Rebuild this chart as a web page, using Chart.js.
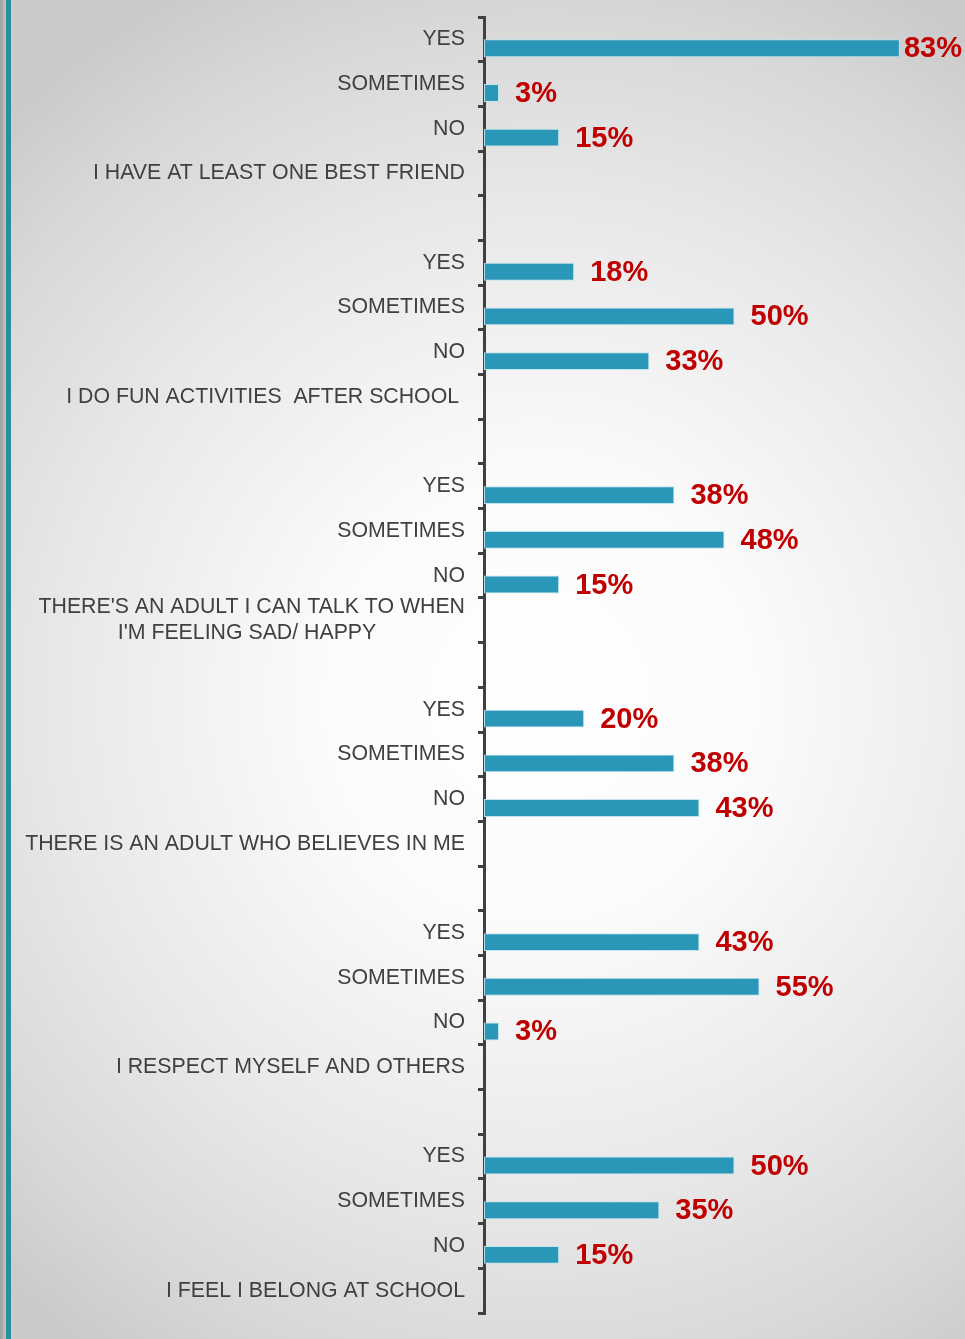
<!DOCTYPE html>
<html>
<head>
<meta charset="utf-8">
<script src="https://cdn.jsdelivr.net/npm/chart.js@4/dist/chart.umd.min.js"></script>
<style>
  html, body { margin: 0; padding: 0; }
  body {
    width: 965px; height: 1339px; position: relative; overflow: hidden;
    background: radial-gradient(ellipse 780px 800px at 540px 700px, #ffffff 0%, #fbfbfb 28%, #e8e8e8 62%, #d8d8d8 85%, #cacaca 100%);
  }
  #edge {
    position: absolute; left: 0; top: 0; width: 6px; height: 100%;
    background: linear-gradient(to right, #9e9e9e, #c4c4c4);
  }
  #stripe {
    position: absolute; left: 6px; top: 0; width: 5px; height: 100%;
    background: #2c8d9e;
  }
  canvas { position: absolute; left: 0; top: 0; }
</style>
</head>
<body>
<div id="edge"></div>
<div id="stripe"></div>
<canvas id="myChart" width="965" height="1339"></canvas>
<script>
const questions = [
    "I HAVE AT LEAST ONE BEST FRIEND",
    "I DO FUN ACTIVITIES  AFTER SCHOOL ",
    ["THERE'S AN ADULT I CAN TALK TO WHEN", "I'M FEELING SAD/ HAPPY               "],
    "THERE IS AN ADULT WHO BELIEVES IN ME",
    "I RESPECT MYSELF AND OTHERS",
    "I FEEL I BELONG AT SCHOOL"
];
const answers = ["YES", "SOMETIMES", "NO"];
const yesPct = [83, 18, 38, 20, 43, 50];
const sometimesPct = [3, 50, 48, 38, 55, 35];
const noPct = [15, 33, 15, 43, 3, 15];

// one row per answer, then the question row, then a gap row between groups
const labels = [];
const values = [];
questions.forEach((q, i) => {
    labels.push(...answers, q);
    values.push(yesPct[i], sometimesPct[i], noPct[i], null);
    if (i < questions.length - 1) {
        labels.push("");
        values.push(null);
    }
});

// percentages in red to the right of each bar
const valueLabels = {
    id: "valueLabels",
    afterDatasetsDraw(chart) {
        const c = chart.ctx;
        const meta = chart.getDatasetMeta(1);
        c.save();
        c.font = "bold 29px 'Liberation Sans', Arial, sans-serif";
        c.fillStyle = "#c00000";
        c.textBaseline = "middle";
        meta.data.forEach((bar, i) => {
            const v = values[i];
            if (v == null) return;
            const txt = v + "%";
            const tw = c.measureText(txt).width;
            let x = bar.x + 16;
            if (x + tw > chart.width - 3) x = chart.width - 3 - tw;
            c.fillText(txt, x, bar.y + 1);
        });
        c.restore();
    }
};

const ctx = document.getElementById("myChart").getContext("2d");
new Chart(ctx, {
    type: "bar",
    data: {
        labels: labels,
        datasets: [{
            // empty slot so the bars sit in the lower half of each row
            data: values.map(() => null)
        }, {
            data: values,
            backgroundColor: "#2a97b9",
            borderColor: "rgba(190, 228, 240, 0.95)",
            borderWidth: 1,
            borderSkipped: false
        }]
    },
    options: {
        indexAxis: "y",
        responsive: false,
        animation: false,
        categoryPercentage: 0.8,
        barPercentage: 1,
        layout: { padding: { left: 0, right: 0, top: 17, bottom: 26 } },
        plugins: {
            legend: { display: false },
            tooltip: { enabled: false }
        },
        scales: {
            x: { display: false, min: 0, max: 96 },
            y: {
                afterFit(scale) {
                    scale.width = 484;
                    scale.paddingTop = 0;
                    scale.paddingBottom = 0;
                },
                grid: {
                    offset: true,
                    drawOnChartArea: false,
                    drawTicks: true,
                    tickLength: 6,
                    tickWidth: 3,
                    tickColor: "#404040",
                    lineWidth: 3
                },
                border: { display: true, color: "#404040", width: 3 },
                ticks: {
                    autoSkip: false,
                    padding: 13,
                    color: "#404040",
                    font: { family: "'Liberation Sans', Arial, sans-serif", size: 21.3 }
                }
            }
        }
    },
    plugins: [valueLabels]
});
</script>
</body>
</html>
